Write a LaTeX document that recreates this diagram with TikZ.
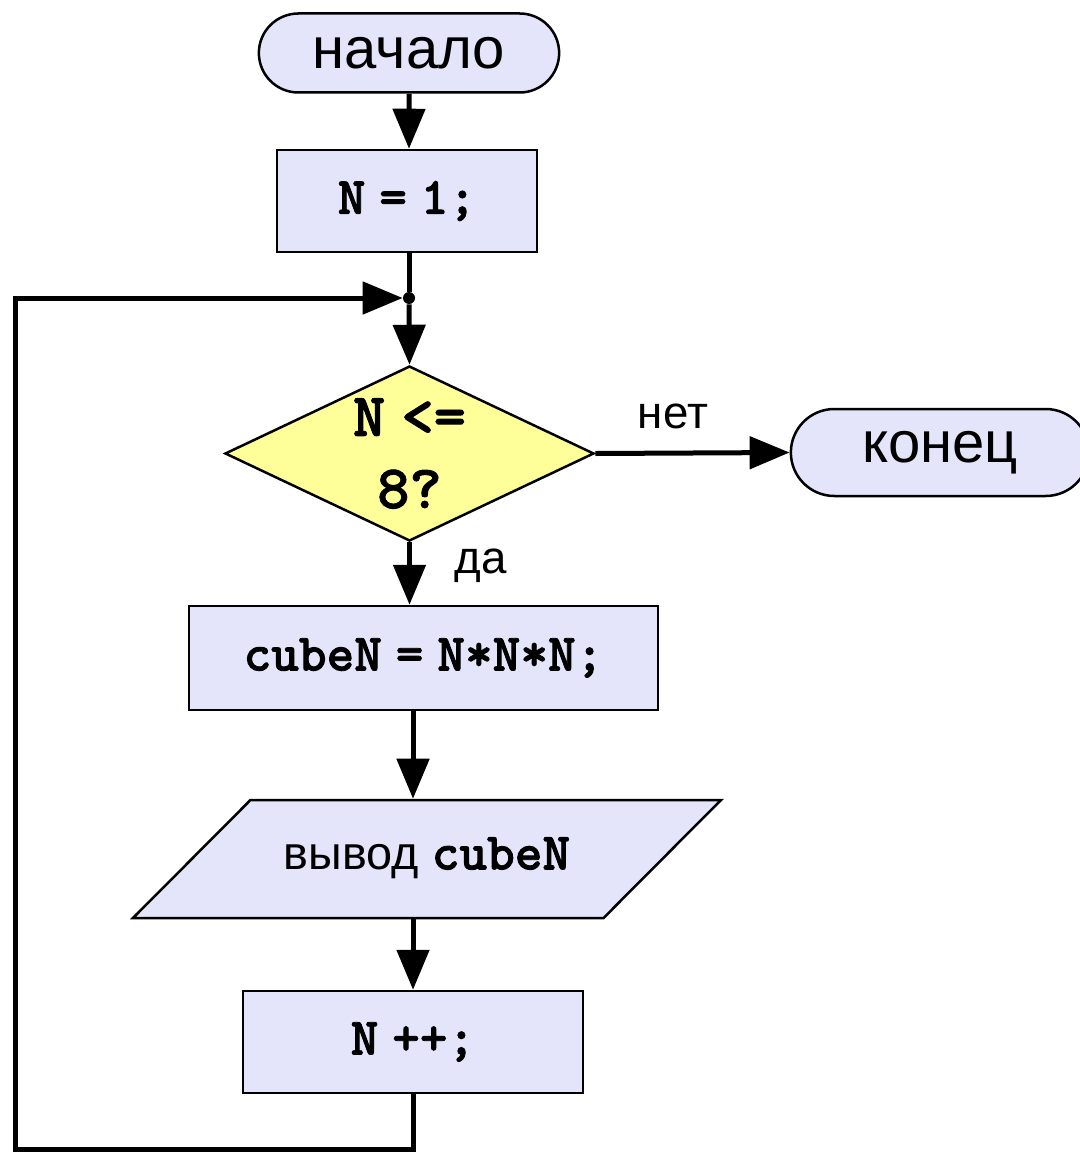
\documentclass[tikz,border=0pt]{standalone}
\usepackage{fontspec}
\setmainfont{Liberation Sans}
\newfontfamily\codefont[WordSpace=0.5, FakeBold=1.5]{lmmonolt10-bold.otf}
\usepackage{xcolor}
\usetikzlibrary{
    arrows.meta,
    shapes,
    calc,
    positioning
}
\definecolor{boxfill}{RGB}{228,228,250}
\definecolor{askfill}{RGB}{255,255,153}

\begin{document}
\begin{tikzpicture}[
        x=0.2mm, y=-0.2mm,
        every node/.style={font=\fontsize{26}{31}\selectfont},
        terminal/.style={draw, rounded rectangle, line width=0.5mm, fill=boxfill, font=\fontsize{33}{40}\selectfont},
        action/.style={draw, rectangle, line width=0.5mm, fill=boxfill, font=\codefont\fontsize{30}{36}\selectfont},
        decision/.style={draw, diamond, shape aspect=2.1, inner sep=0pt, line width=0.5mm, fill=askfill, align=center, font=\codefont\fontsize{35}{41}\selectfont},
        io/.style={draw, trapezium, trapezium left angle=45, trapezium right angle=135, trapezium stretches body, text height=18.6pt, text depth=6.7pt, inner ysep=7.3mm, line width=0.5mm, fill=boxfill, font=\fontsize{26.6}{32}\selectfont},
        flow/.style={line width=1mm, -{Triangle[width=6.4mm, length=8mm]}},
        wire/.style={line width=1mm}
    ]
    \useasboundingbox (0, 0) rectangle (1079, 1152);
    % blocks
    \node[terminal, minimum width=62.4mm, minimum height=15.8mm] (start) at (409, 53) {начало};
    \node[action, minimum width=52mm, minimum height=20.4mm] (init) at (407, 201) {N = 1;};
    \node[circle, fill, inner sep=0pt, minimum size=2.4mm] (join) at (409, 298) {};
    \node[decision, minimum width=73.8mm, minimum height=35mm] (cond) at (409.5, 453.5) {N <=\\8?};
    \node[terminal, minimum width=62mm, minimum height=17.4mm] (stop) at (940, 452.5) {конец};
    \node[action, minimum width=93.8mm, minimum height=20.8mm] (cube) at (423.5, 658) {cubeN = N*N*N;};
    \node[io, minimum width=117.6mm, minimum height=23.6mm] (out) at (427, 859) {вывод {\codefont\fontsize{30}{36}\selectfont cubeN}};
    \node[action, minimum width=68mm, minimum height=20.4mm] (inc) at (413, 1042) {N ++;};
    \coordinate (back) at (15, 1149);
    % labels
    \node (no) at (673, 416) {нет};
    \node (yes) at (481, 566) {да};
    % connectors
    \draw[flow] (start) -- (init.north -| start);
    \draw[wire] (init.south -| join) -- (join);
    \draw[flow] (join) -- (cond.north);
    \draw[flow] (cond.east) -- (stop.west);
    \draw[flow] (cond.south) -- (cube.north -| cond.south);
    \draw[flow] (cube.south -| inc) -- (out.north -| inc);
    \draw[flow] (out.south -| inc) -- (inc);
    \draw[flow] (inc) |- (back) |- (join);
\end{tikzpicture}
\end{document}
